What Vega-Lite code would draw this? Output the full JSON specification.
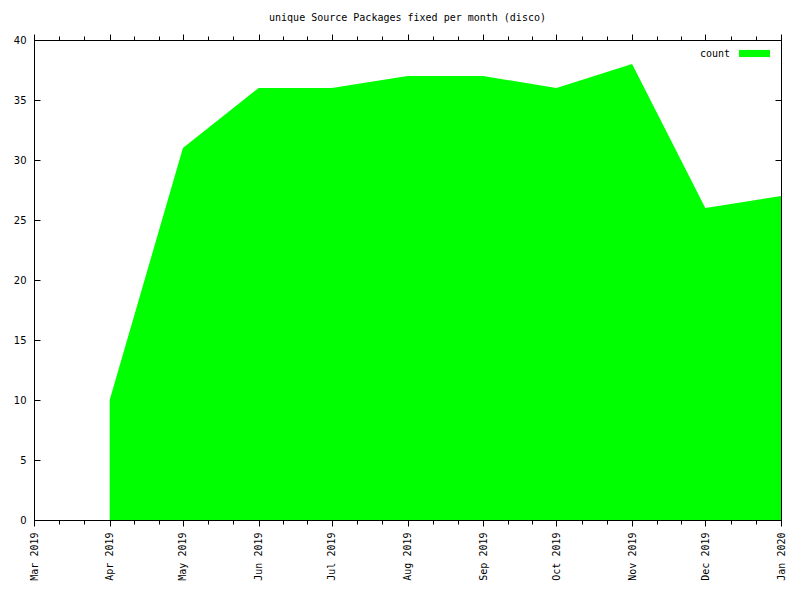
{
  "$schema": "https://vega.github.io/schema/vega-lite/v6.json",
  "width": 747,
  "height": 480,
  "autosize": {"type": "none"},
  "padding": {"left": 34, "top": 40, "right": 19, "bottom": 80},
  "background": "white",
  "title": {"text": "unique Source Packages fixed per month (disco)", "font": "DejaVu Sans Mono", "fontSize": 10, "fontWeight": "normal", "color": "black", "anchor": "middle", "offset": 11},
  "config": {
    "view": {"stroke": "black", "strokeWidth": 1},
    "axis": {"domainColor": "black", "tickColor": "black", "labelColor": "black", "labelFont": "DejaVu Sans Mono", "labelFontSize": 10, "grid": false, "title": null, "domainWidth": 1, "tickWidth": 1}
  },
  "data": {"values": [
    {"month": "2019-04-01", "count": 10},
    {"month": "2019-05-01", "count": 31},
    {"month": "2019-06-01", "count": 36},
    {"month": "2019-07-01", "count": 36},
    {"month": "2019-08-01", "count": 37},
    {"month": "2019-09-01", "count": 37},
    {"month": "2019-10-01", "count": 36},
    {"month": "2019-11-01", "count": 38},
    {"month": "2019-12-01", "count": 26},
    {"month": "2020-01-01", "count": 27}
  ]},
  "layer": [
    {
      "mark": {"type": "area", "interpolate": "linear"},
      "encoding": {
        "x": {"field": "month", "type": "temporal",
          "scale": {"type": "utc", "domain": [{"year": 2019, "month": 3, "date": 1, "utc": true}, {"year": 2020, "month": 1, "date": 1, "utc": true}]},
          "axis": {"orient": "bottom", "labelAngle": -90, "labelAlign": "right", "labelBaseline": "middle", "labelPadding": 6, "labelOverlap": false,
            "labelExpr": "utcdate(datum.value) == 1 ? utcFormat(datum.value, '%b %Y') : ''",
            "tickSize": {"condition": {"test": "utcdate(datum.value) == 1", "value": 6}, "value": 4},
            "values": [
              {"year": 2019, "month": 3, "date": 1, "utc": true}, {"year": 2019, "month": 3, "date": 11, "hours": 8, "utc": true}, {"year": 2019, "month": 3, "date": 21, "hours": 16, "utc": true},
              {"year": 2019, "month": 4, "date": 1, "utc": true}, {"year": 2019, "month": 4, "date": 11, "utc": true}, {"year": 2019, "month": 4, "date": 21, "utc": true},
              {"year": 2019, "month": 5, "date": 1, "utc": true}, {"year": 2019, "month": 5, "date": 11, "hours": 8, "utc": true}, {"year": 2019, "month": 5, "date": 21, "hours": 16, "utc": true},
              {"year": 2019, "month": 6, "date": 1, "utc": true}, {"year": 2019, "month": 6, "date": 11, "utc": true}, {"year": 2019, "month": 6, "date": 21, "utc": true},
              {"year": 2019, "month": 7, "date": 1, "utc": true}, {"year": 2019, "month": 7, "date": 11, "hours": 8, "utc": true}, {"year": 2019, "month": 7, "date": 21, "hours": 16, "utc": true},
              {"year": 2019, "month": 8, "date": 1, "utc": true}, {"year": 2019, "month": 8, "date": 11, "hours": 8, "utc": true}, {"year": 2019, "month": 8, "date": 21, "hours": 16, "utc": true},
              {"year": 2019, "month": 9, "date": 1, "utc": true}, {"year": 2019, "month": 9, "date": 11, "utc": true}, {"year": 2019, "month": 9, "date": 21, "utc": true},
              {"year": 2019, "month": 10, "date": 1, "utc": true}, {"year": 2019, "month": 10, "date": 11, "hours": 8, "utc": true}, {"year": 2019, "month": 10, "date": 21, "hours": 16, "utc": true},
              {"year": 2019, "month": 11, "date": 1, "utc": true}, {"year": 2019, "month": 11, "date": 11, "utc": true}, {"year": 2019, "month": 11, "date": 21, "utc": true},
              {"year": 2019, "month": 12, "date": 1, "utc": true}, {"year": 2019, "month": 12, "date": 11, "hours": 8, "utc": true}, {"year": 2019, "month": 12, "date": 21, "hours": 16, "utc": true},
              {"year": 2020, "month": 1, "date": 1, "utc": true}
            ]}},
        "y": {"field": "count", "type": "quantitative",
          "scale": {"domain": [0, 40], "nice": false, "zero": true},
          "axis": {"orient": "left", "values": [0, 5, 10, 15, 20, 25, 30, 35, 40], "tickSize": -6, "labelPadding": 14, "labelFont": "DejaVu Sans"}},
        "color": {"datum": "count", "type": "nominal",
          "scale": {"range": ["#00ff00"]},
          "legend": {"orient": "none", "legendX": 705, "legendY": -2, "title": null,
            "symbolType": "M-1,-0.23H1V0.23H-1Z", "symbolSize": 961, "symbolStrokeWidth": 0, "symbolOpacity": 1,
            "labelFont": "DejaVu Sans Mono", "labelFontSize": 10, "labelColor": "black", "labelAlign": "right", "labelOffset": -40}}
      }
    },
    {
      "mark": {"type": "line", "opacity": 0},
      "encoding": {
        "x": {"field": "month", "type": "temporal",
          "axis": {"orient": "top", "labels": false, "tickSize": {"condition": {"test": "utcdate(datum.value) == 1", "value": 6}, "value": 4},
            "values": [
              {"year": 2019, "month": 3, "date": 1, "utc": true}, {"year": 2019, "month": 3, "date": 11, "hours": 8, "utc": true}, {"year": 2019, "month": 3, "date": 21, "hours": 16, "utc": true},
              {"year": 2019, "month": 4, "date": 1, "utc": true}, {"year": 2019, "month": 4, "date": 11, "utc": true}, {"year": 2019, "month": 4, "date": 21, "utc": true},
              {"year": 2019, "month": 5, "date": 1, "utc": true}, {"year": 2019, "month": 5, "date": 11, "hours": 8, "utc": true}, {"year": 2019, "month": 5, "date": 21, "hours": 16, "utc": true},
              {"year": 2019, "month": 6, "date": 1, "utc": true}, {"year": 2019, "month": 6, "date": 11, "utc": true}, {"year": 2019, "month": 6, "date": 21, "utc": true},
              {"year": 2019, "month": 7, "date": 1, "utc": true}, {"year": 2019, "month": 7, "date": 11, "hours": 8, "utc": true}, {"year": 2019, "month": 7, "date": 21, "hours": 16, "utc": true},
              {"year": 2019, "month": 8, "date": 1, "utc": true}, {"year": 2019, "month": 8, "date": 11, "hours": 8, "utc": true}, {"year": 2019, "month": 8, "date": 21, "hours": 16, "utc": true},
              {"year": 2019, "month": 9, "date": 1, "utc": true}, {"year": 2019, "month": 9, "date": 11, "utc": true}, {"year": 2019, "month": 9, "date": 21, "utc": true},
              {"year": 2019, "month": 10, "date": 1, "utc": true}, {"year": 2019, "month": 10, "date": 11, "hours": 8, "utc": true}, {"year": 2019, "month": 10, "date": 21, "hours": 16, "utc": true},
              {"year": 2019, "month": 11, "date": 1, "utc": true}, {"year": 2019, "month": 11, "date": 11, "utc": true}, {"year": 2019, "month": 11, "date": 21, "utc": true},
              {"year": 2019, "month": 12, "date": 1, "utc": true}, {"year": 2019, "month": 12, "date": 11, "hours": 8, "utc": true}, {"year": 2019, "month": 12, "date": 21, "hours": 16, "utc": true},
              {"year": 2020, "month": 1, "date": 1, "utc": true}
            ]}},
        "y": {"field": "count", "type": "quantitative",
          "axis": {"orient": "right", "labels": false, "values": [0, 5, 10, 15, 20, 25, 30, 35, 40], "tickSize": -6}}
      }
    }
  ],
  "resolve": {"axis": {"x": "independent", "y": "independent"}}
}
